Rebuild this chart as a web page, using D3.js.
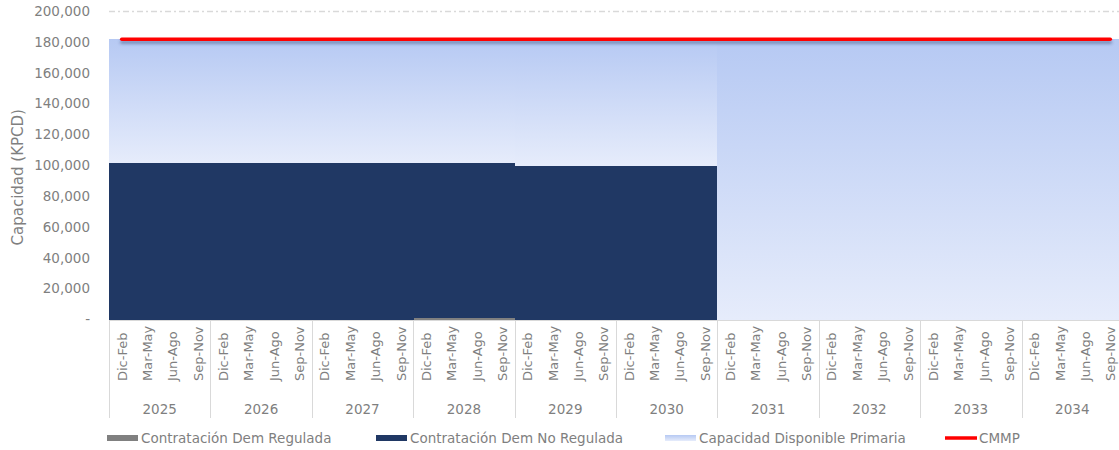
<!DOCTYPE html>
<html>
<head>
<meta charset="utf-8">
<script src="https://cdn.jsdelivr.net/npm/d3@7"></script>
<style>
  body { margin: 0; background: #fff; }
  svg text { font-family: "DejaVu Sans", sans-serif; fill: #7f7f7f; }
</style>
</head>
<body>
<svg id="chart" width="1119" height="450"></svg>
<script>
const years = ['2025','2026','2027','2028','2029','2030','2031','2032','2033','2034']
const seasons = ['Dic-Feb','Mar-May','Jun-Ago','Sep-Nov']

// one value per year, repeated for each of the 4 quarters
const demRegulada   = [0, 0, 0, 1000, 0, 0, 0, 0, 0, 0]
const demNoRegulada = [101200, 101200, 101200, 100200, 99700, 99700, 0, 0, 0, 0]
const cmmp          = [181700, 181700, 181700, 181700, 181700, 181700, 181700, 181700, 181700, 181700]
const yTicks = [0, 20000, 40000, 60000, 80000, 100000, 120000, 140000, 160000, 180000, 200000]

const rows = []
years.forEach((yr, i) => {
  seasons.forEach(s => {
    rows.push({
      key: yr + '|' + s, year: yr, season: s,
      reg: demRegulada[i],
      noreg: demNoRegulada[i],
      disp: cmmp[i] - demRegulada[i] - demNoRegulada[i],
      cmmp: cmmp[i]
    })
  })
})

const svg = d3.select('#chart')
const margin = {left: 109, right: 1123, top: 11, bottom: 319.5}

const x = d3.scaleBand()
  .domain(rows.map(d => d.key))
  .range([margin.left, margin.right])
  .padding(0)

const y = d3.scaleLinear()
  .domain([0, 200000])
  .range([margin.bottom, margin.top])

const defs = svg.append('defs')
function addGrad(id) {
  const g = defs.append('linearGradient')
    .attr('id', id)
    .attr('x1', 0).attr('y1', 0).attr('x2', 0).attr('y2', 1)
  g.append('stop').attr('offset', '0%').attr('stop-color', '#b6c9f3')
  g.append('stop').attr('offset', '100%').attr('stop-color', '#e6ecfb')
}
addGrad('dispGrad')
addGrad('legGrad')

const shadow = defs.append('filter').attr('id', 'shadow')
  .attr('filterUnits', 'userSpaceOnUse')
  .attr('x', 0).attr('y', 0).attr('width', 1119).attr('height', 120)
shadow.append('feDropShadow')
  .attr('dx', 0).attr('dy', 3).attr('stdDeviation', 1.6)
  .attr('flood-color', '#2b3f6e').attr('flood-opacity', 0.45)

// grid
svg.append('g')
  .selectAll('line')
  .data(yTicks.filter(t => t > 0))
  .enter()
  .append('line')
  .attr('x1', margin.left)
  .attr('x2', 1119)
  .attr('y1', d => Math.round(y(d)) + 0.5)
  .attr('y2', d => Math.round(y(d)) + 0.5)
  .attr('stroke', '#d9d9d9')
  .attr('stroke-width', 1.3)
  .attr('stroke-dasharray', '6,3,2,3')

// stacked columns
const stack = d3.stack().keys(['reg', 'noreg', 'disp'])
const series = stack(rows)
const fills = {reg: '#808080', noreg: '#203864', disp: 'url(#dispGrad)'}

svg.append('g')
  .attr('shape-rendering', 'crispEdges')
  .selectAll('g')
  .data(series)
  .enter()
  .append('g')
  .attr('fill', s => fills[s.key])
  .selectAll('rect')
  .data(s => s.filter(d => d[1] - d[0] > 0))
  .enter()
  .append('rect')
  .attr('x', d => x(d.data.key))
  .attr('width', x.bandwidth() + 1)
  .attr('y', d => y(d[1]))
  .attr('height', d => y(d[0]) - y(d[1]))

// CMMP line
const line = d3.line()
  .x(d => x(d.key) + x.bandwidth() / 2)
  .y(d => y(d.cmmp))
svg.append('path')
  .datum(rows)
  .attr('fill', 'none')
  .attr('stroke', '#ff0000')
  .attr('stroke-width', 3.5)
  .attr('stroke-linecap', 'round')
  .attr('filter', 'url(#shadow)')
  .attr('d', line)

// y axis
const yAxis = d3.axisLeft(y)
  .tickValues(yTicks)
  .tickSize(0)
  .tickPadding(19)
  .tickFormat(d => d === 0 ? '-' : d3.format(',')(d))
const yg = svg.append('g')
  .attr('transform', `translate(${margin.left},0)`)
  .call(yAxis)
yg.select('.domain').remove()
yg.selectAll('text').style('font-size', '13.5px').attr('fill', '#7f7f7f')

svg.append('text')
  .attr('transform', `translate(23,${(margin.top + margin.bottom) / 2 + 12}) rotate(-90)`)
  .attr('text-anchor', 'middle')
  .style('font-size', '15px')
  .text('Capacidad (KPCD)')

// x axis: quarters
svg.append('line')
  .attr('x1', margin.left).attr('x2', 1119)
  .attr('y1', 320.5).attr('y2', 320.5)
  .attr('stroke', '#d9d9d9')

svg.append('g')
  .selectAll('text')
  .data(rows)
  .enter()
  .append('text')
  .attr('transform', d => `translate(${x(d.key) + x.bandwidth() / 2 + 5},381) rotate(-90)`)
  .attr('text-anchor', 'start')
  .style('font-size', '13px')
  .text(d => d.season)

// year separators and labels
const yearW = x.bandwidth() * 4
svg.append('g')
  .selectAll('line')
  .data(d3.range(years.length + 1))
  .enter()
  .append('line')
  .attr('x1', i => Math.round(margin.left + i * yearW) + 0.5)
  .attr('x2', i => Math.round(margin.left + i * yearW) + 0.5)
  .attr('y1', 320)
  .attr('y2', 418)
  .attr('stroke', '#d9d9d9')

svg.append('g')
  .selectAll('text')
  .data(years)
  .enter()
  .append('text')
  .attr('x', (d, i) => margin.left + (i + 0.5) * yearW)
  .attr('y', 414)
  .attr('text-anchor', 'middle')
  .style('font-size', '13.5px')
  .text(d => d)

// legend
const legendItems = [
  {name: 'Contratación Dem Regulada', x: 107, type: 'rect', color: '#808080'},
  {name: 'Contratación Dem No Regulada', x: 376, type: 'rect', color: '#203864'},
  {name: 'Capacidad Disponible Primaria', x: 665, type: 'rect', color: 'url(#legGrad)'},
  {name: 'CMMP', x: 945, type: 'line', color: '#ff0000'}
]

const legend = svg.append('g')
legendItems.forEach(item => {
  const g = legend.append('g').attr('transform', `translate(${item.x},438)`)
  if (item.type === 'rect') {
    g.append('rect')
      .attr('x', 0).attr('y', -3)
      .attr('width', 31).attr('height', 6)
      .attr('fill', item.color)
  } else {
    g.append('line')
      .attr('x1', 0).attr('x2', 32)
      .attr('y1', 0).attr('y2', 0)
      .attr('stroke', item.color)
      .attr('stroke-width', 3.5)
  }
  g.append('text')
    .attr('x', 34)
    .attr('y', 5)
    .style('font-size', '13.5px')
    .text(item.name)
})
</script>
</body>
</html>
